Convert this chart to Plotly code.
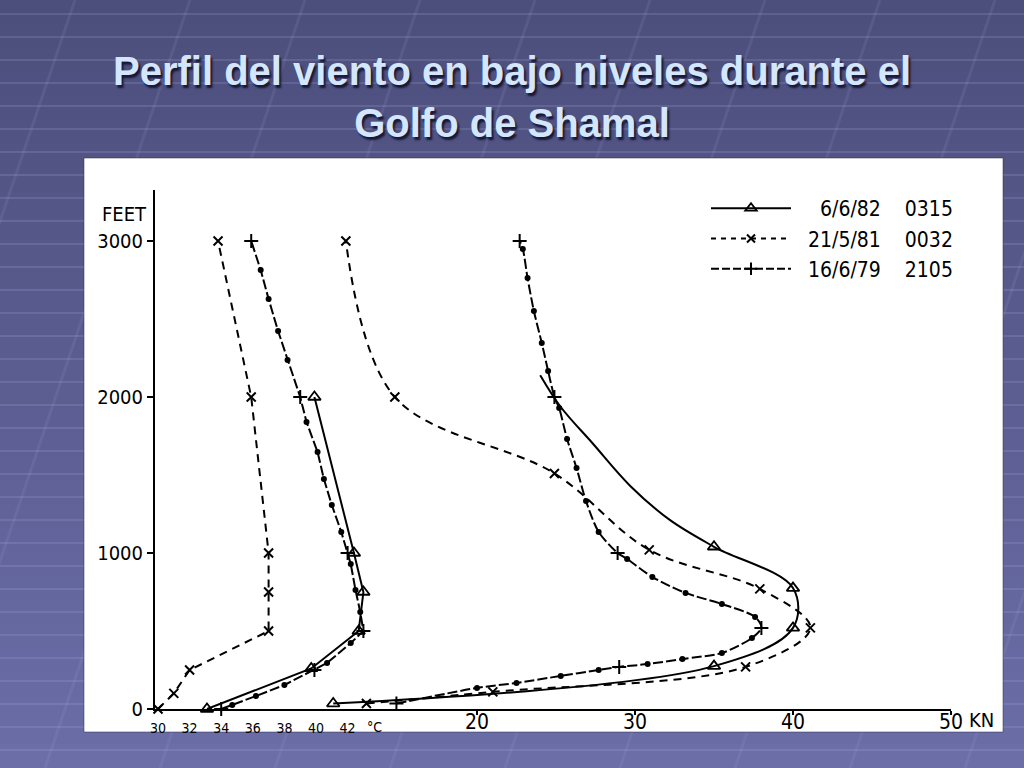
import plotly.graph_objects as go

# ---------------- data ----------------
# Temperature profiles (deg C vs feet)
temp_a_c = [33.1, 39.7, 42.7, 43.0, 42.4, 39.9]
temp_a_ft = [0, 260, 500, 750, 1000, 2000]

temp_b_c = [30.0, 31.0, 32.0, 37.0, 37.0, 37.0, 35.9, 33.8]
temp_b_ft = [0, 100, 250, 500, 750, 1000, 2000, 3000]

temp_c_c = [34.0, 39.9, 43.0, 42.0, 39.0, 35.9]
temp_c_ft = [0, 250, 500, 1000, 2000, 3000]
temp_c_dot_c = [34.7, 36.2, 38.0, 40.7, 42.2, 42.8, 42.5, 42.2, 41.6, 41.0, 40.5, 40.1, 39.4, 38.2, 37.6, 37.0, 36.5]
temp_c_dot_ft = [26, 83, 154, 295, 423, 622, 763, 929, 1135, 1308, 1474, 1647, 1840, 2237, 2423, 2628, 2814]

# Wind profiles (knots vs feet)
wind_a_kn = [10.9, 35.0, 40.0, 40.0, 35.0]
wind_a_ft = [35, 275, 520, 775, 1040]
# points read along the drawn solid curve above the last triangle
wind_a_curve_kn = [32.2, 29.7, 27.3, 25.3, 24.0]
wind_a_curve_ft = [1212, 1430, 1705, 1936, 2140]

wind_b_kn = [13.0, 21.0, 37.0, 41.1, 37.9, 30.9, 24.9, 14.8, 11.7]
wind_b_ft = [35, 110, 270, 520, 770, 1020, 1510, 2000, 3000]

wind_c_kn = [14.9, 29.0, 38.0, 28.9, 24.9, 22.7]
wind_c_ft = [35, 270, 520, 1000, 2000, 3000]
wind_c_dot_kn = [20.0, 22.5, 25.3, 27.7, 30.8, 33.0, 35.5, 37.4, 37.6, 35.5, 33.2, 31.1, 29.5, 27.7,
                 26.9, 26.3, 25.7, 25.2, 24.5, 24.1, 23.6, 23.2, 22.9]
wind_c_dot_ft = [135, 167, 212, 250, 288, 321, 359, 455, 590, 673, 744, 846, 962, 1135,
                 1333, 1545, 1731, 1929, 2167, 2346, 2551, 2763, 2949]

series_names = ["6/6/82", "21/5/81", "16/6/79"]
series_times = ["0315", "0032", "2105"]

y_ticks = [0, 1000, 2000, 3000]
kn_ticks = [20, 30, 40, 50]
temp_ticks = [30, 32, 34, 36, 38, 40, 42]

# ---------------- layout helpers ----------------
W, H = 1024, 768
PL, PR, PT, PB = 155, 951, 190, 709


def xp(px):
    return (px - PL) / (PR - PL)


def yp(py):
    return (PB - py) / (PB - PT)


COND = "DejaVu Sans Condensed, Liberation Sans Narrow, DejaVu Sans, sans-serif"
LW = 2

fig = go.Figure()


def merge(xa, ya, xb, yb):
    pts = sorted(list(zip(ya, xa)) + list(zip(yb, xb)))
    return [p[1] for p in pts], [p[0] for p in pts]


TRI = dict(symbol="triangle-up-open", size=11, color="black", line=dict(width=1.8))
XM = dict(symbol="x-thin", size=9, color="black", line=dict(width=2, color="black"))
PM = dict(symbol="cross-thin", size=10, color="black", line=dict(width=2, color="black"))
DOT = dict(symbol="circle", size=6, color="black")

# --- temperature traces (xaxis2) ---
fig.add_trace(go.Scatter(x=temp_a_c, y=temp_a_ft, xaxis="x2", mode="lines+markers",
                         line=dict(color="black", width=LW), marker=TRI,
                         cliponaxis=False, showlegend=False))
fig.add_trace(go.Scatter(x=temp_b_c, y=temp_b_ft, xaxis="x2", mode="lines+markers",
                         line=dict(color="black", width=LW, dash="8px,6px"), marker=XM,
                         cliponaxis=False, showlegend=False))
tcx, tcy = merge(temp_c_c, temp_c_ft, temp_c_dot_c, temp_c_dot_ft)
fig.add_trace(go.Scatter(x=tcx, y=tcy, xaxis="x2", mode="lines",
                         line=dict(color="black", width=LW, dash="10px,3px"),
                         cliponaxis=False, showlegend=False))
fig.add_trace(go.Scatter(x=temp_c_c, y=temp_c_ft, xaxis="x2", mode="markers", marker=PM,
                         cliponaxis=False, showlegend=False))
fig.add_trace(go.Scatter(x=temp_c_dot_c, y=temp_c_dot_ft, xaxis="x2", mode="markers", marker=DOT,
                         cliponaxis=False, showlegend=False))

# --- wind traces (xaxis) ---
wax, way = merge(wind_a_kn, wind_a_ft, wind_a_curve_kn, wind_a_curve_ft)
fig.add_trace(go.Scatter(x=wax, y=way, mode="lines",
                         line=dict(color="black", width=LW, shape="spline", smoothing=1.0),
                         cliponaxis=False, showlegend=False))
fig.add_trace(go.Scatter(x=wind_a_kn, y=wind_a_ft, mode="markers", marker=TRI,
                         cliponaxis=False, showlegend=False))
fig.add_trace(go.Scatter(x=wind_b_kn, y=wind_b_ft, mode="lines+markers",
                         line=dict(color="black", width=LW, dash="8px,6px", shape="spline", smoothing=1.0),
                         marker=XM, cliponaxis=False, showlegend=False))
wcx, wcy = merge(wind_c_kn, wind_c_ft, wind_c_dot_kn, wind_c_dot_ft)
fig.add_trace(go.Scatter(x=wcx, y=wcy, mode="lines",
                         line=dict(color="black", width=LW, dash="10px,3px", shape="spline", smoothing=0.8),
                         cliponaxis=False, showlegend=False))
fig.add_trace(go.Scatter(x=wind_c_kn, y=wind_c_ft, mode="markers", marker=PM,
                         cliponaxis=False, showlegend=False))
fig.add_trace(go.Scatter(x=wind_c_dot_kn, y=wind_c_dot_ft, mode="markers", marker=DOT,
                         cliponaxis=False, showlegend=False))

# --- legend entries ---
leg_styles = [
    dict(line=dict(color="black", width=LW),
         marker=dict(symbol="triangle-up-open", size=10, color="black", line=dict(width=1.8))),
    dict(line=dict(color="black", width=LW, dash="5px,5px"),
         marker=dict(symbol="x-thin", size=8, color="black", line=dict(width=2, color="black"))),
    dict(line=dict(color="black", width=LW, dash="8px,3px"),
         marker=dict(symbol="cross-thin", size=9, color="black", line=dict(width=2, color="black"))),
]
for name, tm, st in zip(series_names, series_times, leg_styles):
    pad = "\u2007" * (8 - len(name))
    fig.add_trace(go.Scatter(x=[None], y=[None], mode="lines+markers", name=f"{pad}{name}    {tm}", **st))

# ---------------- background ----------------
shapes = []
nb = 32
c0, c1 = (76, 78, 124), (108, 110, 168)
for i in range(nb):
    t = i / (nb - 1)
    col = tuple(int(c0[k] + (c1[k] - c0[k]) * t) for k in range(3))
    shapes.append(dict(type="rect", xref="paper", yref="paper", layer="below",
                       x0=xp(0), x1=xp(W), y0=yp(H * (i + 1) / nb + 1), y1=yp(H * i / nb),
                       fillcolor=f"rgb{col}", line=dict(width=0)))
y = 14
while y < H:
    shapes.append(dict(type="line", xref="paper", yref="paper", layer="below",
                       x0=xp(0), x1=xp(W), y0=yp(y), y1=yp(y),
                       line=dict(color="rgba(170,175,225,0.20)", width=2)))
    y += 23
for xb in range(-300, 1300, 115):
    shapes.append(dict(type="line", xref="paper", yref="paper", layer="below",
                       x0=xp(xb), x1=xp(xb + 260), y0=yp(H), y1=yp(0),
                       line=dict(color="rgba(170,175,225,0.12)", width=3)))
# white panel
shapes.append(dict(type="rect", xref="paper", yref="paper", layer="below",
                   x0=xp(84), x1=xp(1003), y0=yp(732), y1=yp(158),
                   fillcolor="white", line=dict(color="rgba(40,40,70,0.5)", width=1)))

annotations = [
    dict(text="FEET", xref="paper", yref="paper", x=xp(100), y=yp(214), xanchor="left", yanchor="middle",
         showarrow=False, font=dict(family=COND, size=20, color="black")),
    dict(text="KN", xref="x", yref="paper", x=50, y=yp(720), xanchor="left", yanchor="middle", xshift=16,
         showarrow=False, font=dict(family=COND, size=20, color="black")),
    dict(text="°C", xref="x2", yref="paper", x=43.7, y=yp(727), xanchor="center", yanchor="middle",
         showarrow=False, font=dict(family=COND, size=14, color="black")),
]

fig.update_layout(
    width=W, height=H,
    margin=dict(l=PL, r=W - PR, t=PT, b=H - PB, pad=0),
    paper_bgcolor="rgb(92,94,148)", plot_bgcolor="rgba(0,0,0,0)",
    title=dict(text="Perfil del viento en bajo niveles durante el<br>Golfo de Shamal",
               x=0.5, xref="container", xanchor="center",
               y=1 - 85 / H, yref="container", yanchor="middle",
               font=dict(family="Liberation Sans, Arial, sans-serif", size=40, weight="bold",
                         color="#d3e6fb", shadow="2px 3px 2px rgba(20,20,50,0.95)")),
    xaxis=dict(range=[-0.38, 50], showgrid=False, zeroline=False, showline=True, linecolor="black",
               linewidth=2, tickvals=kn_ticks, ticks="outside", ticklen=4, tickwidth=2, tickcolor="black",
               ticklabelstandoff=-11,
               tickfont=dict(family=COND, size=21, color="black"), fixedrange=True),
    xaxis2=dict(range=[29.81, 80.19], overlaying="x", side="bottom", anchor="y", showgrid=False,
                zeroline=False, showline=False, tickvals=temp_ticks, ticks="", ticklabelstandoff=9,
                tickfont=dict(family=COND, size=14, color="black"), fixedrange=True),
    yaxis=dict(range=[0, 3327], showgrid=False, zeroline=False, showline=True, linecolor="black",
               linewidth=2, tickvals=y_ticks, ticks="outside", ticklen=6, tickwidth=2, tickcolor="black",
               tickfont=dict(family=COND, size=20, color="black"), fixedrange=True),
    legend=dict(x=xp(706), y=yp(188), xanchor="left", yanchor="top", bgcolor="rgba(0,0,0,0)",
                font=dict(family=COND, size=21, color="black"), itemwidth=80, tracegroupgap=0),
    shapes=shapes, annotations=annotations,
)

fig.write_html("out.html", post_script="document.body.style.margin='0';",
               config={"displayModeBar": False})
